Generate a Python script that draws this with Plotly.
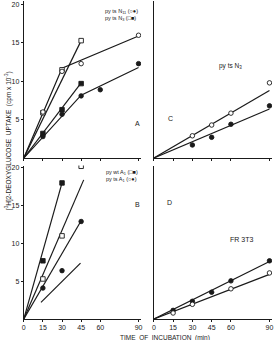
import plotly.graph_objects as go

W, H = 277, 340
INK = "#1a1a1a"
FONT = "Liberation Sans Narrow, Liberation Sans, Arial, sans-serif"

# ---- data ----
# Panel A
A_open_sq_x = [15, 30, 45]; A_open_sq_y = [5.9, 11.5, 15.3]
A_open_ci_x = [15, 30, 45, 90]; A_open_ci_y = [6.0, 11.3, 12.3, 16.0]
A_fill_sq_x = [15, 30, 45]; A_fill_sq_y = [3.2, 6.3, 9.7]
A_fill_ci_x = [15, 30, 45, 60, 90]; A_fill_ci_y = [2.8, 5.7, 8.1, 8.9, 12.3]
A_fit_open_sq = ([0, 45], [0, 15.3])
A_fit_open_ci = ([0, 30, 90], [0, 11.7, 15.9])
A_fit_fill_sq = ([0, 45], [0, 9.8])
A_fit_fill_ci = ([0, 45, 90], [0, 8.2, 11.8])

# Panel B
B_fill_sq_x = [15, 30]; B_fill_sq_y = [7.7, 18.0]
B_open_sq_x = [15, 30, 45]; B_open_sq_y = [5.3, 11.0, 20.2]
B_fill_ci_x = [15, 30, 45]; B_fill_ci_y = [4.1, 6.4, 12.9]
B_fit_1 = ([0, 30], [0, 18.0])
B_fit_2 = ([0, 47], [0, 18.4])
B_fit_3 = ([0, 45], [0, 13.0])
B_fit_4 = ([13.5, 44.5], [2.2, 7.4])

# Panel C
C_open_x = [30, 45, 60, 90]; C_open_y = [2.9, 4.3, 5.85, 9.8]
C_fill_x = [30, 45, 60, 90]; C_fill_y = [1.7, 2.7, 4.4, 6.8]
C_fit_open = ([0, 90], [0, 8.8])
C_fit_fill = ([0, 90], [0, 6.4])

# Panel D
D_fill_x = [15, 30, 45, 60, 90]; D_fill_y = [1.15, 2.35, 3.55, 5.05, 7.7]
D_open_x = [15, 30, 60, 90]; D_open_y = [0.8, 1.95, 4.0, 6.1]
D_fit_fill = ([0, 90], [0, 7.6])
D_fit_open = ([0, 90], [0, 5.9])

x_ticks = [0, 15, 30, 45, 60, 90]
y_ticks = [5, 10, 15, 20]

fig = go.Figure()

def line(xs, ys, ax):
    fig.add_trace(go.Scatter(x=xs, y=ys, mode="lines", xaxis="x" + ax, yaxis="y" + ax,
                             line=dict(color=INK, width=1.2), showlegend=False, hoverinfo="skip"))

def pts(xs, ys, ax, sym, filled):
    fig.add_trace(go.Scatter(x=xs, y=ys, mode="markers", xaxis="x" + ax, yaxis="y" + ax,
                             marker=dict(symbol=sym, size=4.5, color=INK if filled else "white",
                                         line=dict(color=INK, width=0.9)),
                             showlegend=False, hoverinfo="skip"))

# A -> axis "" (x/y), B -> 2, C -> 3, D -> 4
for fx, fy in [A_fit_open_sq, A_fit_open_ci, A_fit_fill_sq, A_fit_fill_ci]:
    line(fx, fy, "")
pts(A_open_sq_x, A_open_sq_y, "", "square", False)
pts(A_open_ci_x, A_open_ci_y, "", "circle", False)
pts(A_fill_sq_x, A_fill_sq_y, "", "square", True)
pts(A_fill_ci_x, A_fill_ci_y, "", "circle", True)

for fx, fy in [B_fit_1, B_fit_2, B_fit_3, B_fit_4]:
    line(fx, fy, "2")
pts(B_fill_sq_x, B_fill_sq_y, "2", "square", True)
pts(B_open_sq_x, B_open_sq_y, "2", "square", False)
pts(B_fill_ci_x, B_fill_ci_y, "2", "circle", True)

for fx, fy in [C_fit_open, C_fit_fill]:
    line(fx, fy, "3")
pts(C_open_x, C_open_y, "3", "circle", False)
pts(C_fill_x, C_fill_y, "3", "circle", True)

for fx, fy in [D_fit_fill, D_fit_open]:
    line(fx, fy, "4")
pts(D_fill_x, D_fill_y, "4", "circle", True)
pts(D_open_x, D_open_y, "4", "circle", False)

def xax(dom, anchor, labels):
    return dict(domain=dom, anchor=anchor, range=[0, 92], tickvals=x_ticks,
                showticklabels=labels, ticks="outside", ticklen=2, tickcolor=INK,
                showline=True, linecolor=INK, linewidth=1, showgrid=False, zeroline=False,
                tickfont=dict(family=FONT, size=7, color=INK), fixedrange=True)

def yax(dom, anchor, rng, labels):
    return dict(domain=dom, anchor=anchor, range=rng, tickvals=y_ticks,
                showticklabels=labels, ticks="outside" if labels else "", ticklen=2, tickcolor=INK,
                showline=True, linecolor=INK, linewidth=1, showgrid=False, zeroline=False,
                tickfont=dict(family=FONT, size=7, color=INK), fixedrange=True)

xl = [22 / W, 140.6 / W]
xr = [153.5 / W, 273 / W]
yt = [(H - 157.5) / H, (H - 0.5) / H]
yb = [(H - 319) / H, (H - 165) / H]

fig.update_layout(
    width=W, height=H, margin=dict(l=0, r=0, t=0, b=0),
    paper_bgcolor="white", plot_bgcolor="white",
    xaxis=xax(xl, "y", False), yaxis=yax(yt, "x", [0, 20.4], True),
    xaxis2=xax(xl, "y2", True), yaxis2=yax(yb, "x2", [0, 20.3], True),
    xaxis3=xax(xr, "y3", False), yaxis3=yax(yt, "x3", [0, 20.4], False),
    xaxis4=xax(xr, "y4", True), yaxis4=yax(yb, "x4", [0, 20.3], False),
)

def ann(text, x, y, ax, size=7, xanchor="center"):
    fig.add_annotation(text=text, x=x, y=y, xref="x" + ax, yref="y" + ax, showarrow=False,
                       font=dict(family=FONT, size=size, color=INK), xanchor=xanchor, align="left")

ann("py ts N<sub>11</sub> (○●)<br>py ts N<sub>3</sub> (□■)", 91, 18.7, "", size=5.5, xanchor="right")
ann("A", 89, 4.5, "")
ann("py wt A<sub>1</sub> (□■)<br>py ts A<sub>1</sub> (○●)", 91, 18.9, "2", size=5.5, xanchor="right")
ann("B", 89, 15.2, "2")
ann("C", 13, 5.1, "3")
ann("py ts N<sub>3</sub>", 60, 12, "3", size=6.5)
ann("D", 12, 15.4, "4")
ann("FR 3T3", 68, 10.5, "4", size=7)

fig.add_annotation(text="[<sup>3</sup>H]2-DEOXYGLUCOSE  UPTAKE  (cpm x 10<sup>-3</sup>)",
                   x=0, y=(H - 140) / H, xref="paper", yref="paper", textangle=-90,
                   xanchor="left", showarrow=False, font=dict(family=FONT, size=6.5, color=INK))
fig.add_annotation(text="TIME  OF  INCUBATION  (min)", x=165 / W, y=0,
                   xref="paper", yref="paper", yanchor="bottom", yshift=-4, showarrow=False,
                   font=dict(family=FONT, size=6.5, color=INK))

fig.write_html("out.html")
